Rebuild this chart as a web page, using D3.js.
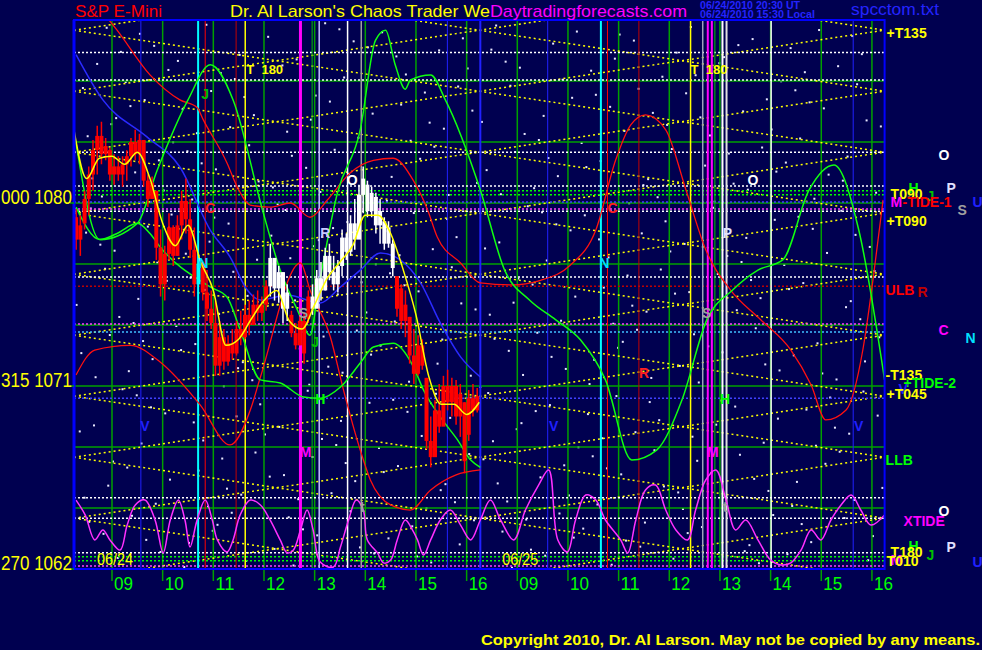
<!DOCTYPE html>
<html><head><meta charset="utf-8">
<script src="https://cdn.jsdelivr.net/npm/d3@7"></script>
<style>
body{margin:0;background:#000050;}
svg{display:block;}
text{font-family:"Liberation Sans",Arial,sans-serif;}
</style></head>
<body><svg id="c" width="982" height="650"></svg>
<script>
// ---------------- DATA ----------------
const dayLabels = ["06/24","06/25"];
const hourLabels = ["09","10","11","12","13","14","15","16","09","10","11","12","13","14","15","16"];
const hourTimes = [0.75,1.75,2.75,3.75,4.75,5.75,6.75,7.75,8.75,9.75,10.75,11.75,12.75,13.75,14.75,15.75];
const yTickValues = [1080,1071,1062];
const yTickLabels = ["000 1080","315 1071","270 1062"];
const gridPrices = [1065,1068,1071,1074,1077,1080,1083,1086];
const latticeLevels = [1060,1063,1066,1069,1072,1075,1078,1081,1084,1087,1090];

// 5-minute bars, session 1 (96 bars)
const barHigh = [1079.7,1079.4,1080.6,1081.8,1083.1,1083.8,1084.0,1083.2,1082.7,1082.4,1082.3,1082.3,1082.6,1083.2,1083.6,1083.4,1083.1,1081.4,1081.3,1080.6,1078.7,1077.9,1079.5,1078.9,1079.4,1080.6,1081.2,1080.2,1078.8,1077.4,1077.1,1076.7,1075.7,1075.2,1074.2,1073.8,1073.5,1073.8,1074.2,1074.7,1075.0,1075.2,1075.5,1075.7,1075.4,1076.2,1078.0,1077.1,1076.9,1076.6,1076.0,1074.7,1074.1,1074.5,1074.6,1075.7,1076.0,1076.7,1077.1,1077.8,1078.0,1077.4,1077.2,1078.7,1078.5,1079.4,1080.2,1080.9,1081.8,1081.1,1080.8,1080.5,1080.2,1079.3,1079.1,1078.2,1076.4,1076.0,1075.7,1074.4,1073.8,1073.5,1073.3,1071.4,1069.5,1070.3,1071.1,1071.5,1071.8,1071.4,1071.3,1071.1,1070.2,1070.8,1071.1,1070.9];
const barLow  = [1077.7,1077.4,1078.7,1079.4,1080.6,1081.4,1081.9,1082.1,1081.1,1080.9,1081.1,1080.8,1081.1,1081.8,1082.1,1081.9,1080.8,1079.8,1080.2,1077.2,1075.4,1075.2,1077.2,1076.9,1077.4,1078.2,1078.5,1077.3,1075.4,1076.4,1075.2,1074.2,1073.8,1071.5,1071.5,1071.8,1072.0,1072.3,1072.5,1073.0,1073.3,1073.5,1074.0,1074.2,1074.2,1074.7,1075.4,1075.2,1075.1,1074.1,1074.2,1073.4,1072.8,1073.0,1072.1,1074.1,1074.5,1074.9,1075.2,1075.7,1076.2,1075.7,1075.6,1076.4,1077.2,1077.4,1077.7,1078.7,1079.5,1079.3,1079.3,1078.5,1078.0,1077.7,1077.8,1076.4,1074.4,1073.8,1073.4,1072.1,1071.1,1071.5,1071.8,1067.9,1067.0,1067.6,1068.7,1069.3,1069.8,1069.5,1069.1,1068.5,1066.7,1068.3,1069.5,1069.7];
const barOpen = [1079.3,1078.2,1079.0,1080.2,1081.4,1082.6,1083.3,1082.4,1082.6,1081.4,1081.8,1081.4,1081.9,1082.3,1083.0,1082.4,1083.1,1081.1,1080.2,1080.6,1077.8,1076.0,1077.5,1078.8,1077.4,1078.9,1080.1,1079.2,1077.7,1076.0,1077.0,1075.6,1074.8,1074.1,1072.0,1073.4,1072.2,1073.1,1072.6,1073.8,1073.4,1074.5,1074.0,1075.0,1074.6,1075.0,1075.9,1077.3,1075.8,1076.6,1074.8,1074.5,1073.6,1073.0,1074.2,1074.3,1075.4,1074.8,1076.3,1075.7,1077.4,1076.6,1076.0,1076.9,1078.3,1077.6,1079.0,1078.2,1080.4,1080.9,1079.6,1080.3,1078.9,1079.1,1078.0,1078.0,1076.4,1075.8,1074.2,1074.4,1072.5,1071.6,1073.0,1071.4,1068.3,1067.5,1069.8,1069.0,1071.0,1070.2,1071.0,1069.5,1070.2,1068.6,1070.4,1069.8];
const barClose= [1078.2,1078.9,1080.2,1081.4,1082.6,1083.3,1082.4,1082.8,1081.4,1081.8,1081.4,1081.9,1082.3,1083.0,1082.4,1083.1,1081.1,1080.2,1081.0,1077.8,1076.0,1077.5,1078.8,1077.4,1078.9,1080.1,1079.2,1077.7,1076.0,1077.0,1075.6,1074.8,1074.1,1072.0,1073.4,1072.2,1073.1,1072.6,1073.8,1073.4,1074.5,1074.0,1075.0,1074.6,1075.0,1075.9,1077.3,1075.8,1076.6,1074.8,1075.6,1073.6,1073.0,1074.2,1072.6,1075.4,1074.8,1076.3,1075.7,1077.4,1076.6,1076.0,1076.9,1078.3,1077.6,1079.0,1078.2,1080.4,1081.2,1079.6,1080.5,1078.9,1079.6,1078.0,1078.8,1076.8,1074.8,1074.2,1075.0,1072.5,1071.6,1073.0,1072.0,1068.3,1067.5,1069.8,1069.0,1071.0,1070.2,1071.0,1069.5,1070.6,1067.3,1070.4,1069.8,1070.5];
const barColor = "rrrrrrrrrrrrrrrrrrrrrrrrrrrrrcrrrrrrrrrrrrrrrrwwwwwrrrrrwwwwwwwwwwwwwwwwwwwwrrrrrrrrrrrrrrrrrrrr";

// smoothed price (yellow), every 15 minutes, session 1
const yellowT = [0,0.25,0.5,0.75,1,1.25,1.5,1.75,2,2.25,2.5,2.75,3,3.25,3.5,3.75,4,4.25,4.5,4.75,5,5.25,5.5,5.75,6,6.25,6.5,6.75,7,7.25,7.5,7.75,8];
const yellowV = [1083.6,1081.2,1082.2,1082.3,1081.9,1082.5,1081.2,1079.0,1077.9,1078.9,1077.1,1075.7,1073.0,1073.3,1074.3,1075.2,1075.7,1074.2,1073.8,1075.0,1076.3,1077.1,1077.9,1079.4,1079.4,1078.5,1076.7,1074.5,1071.5,1070.1,1070.1,1069.6,1070.2];

// green cycle curve (both sessions)
const greenAT = [0.04,0.51,1.25,1.64,2.25,2.69,3.14,3.72,4.07,4.41,4.66,4.82,5.20,5.65,5.95,6.15,6.34,6.54,6.64,7.04,7.33,8.02,8.50,8.99,9.51,10.0,10.49,11.01,11.50,12.0,12.49,13.0,13.50,13.99,14.51,15.0,15.49,16.0];
const greenAV = [1082.95,1078.2,1079.0,1081.6,1085.07,1086.8,1085.07,1079.66,1076.7,1074.74,1073.5,1075.72,1080.5,1083.6,1088.0,1088.5,1086.8,1085.6,1086.05,1086.3,1085.07,1080.64,1076.7,1075.23,1074.25,1073.26,1071.3,1067.36,1067.85,1070.31,1074.25,1075.72,1076.7,1077.2,1080.64,1081.87,1078.67,1071.3];
// second green curve (session 1)
const greenBT = [0.04,0.51,0.85,1.25,1.50,1.70,2.69,3.02,3.28,3.68,4.07,4.53,4.86,5.26,5.65,5.91,6.30,6.70,6.90,7.23,7.57,7.83,8.02];
const greenBV = [1079.8,1078.2,1078.5,1079.0,1078.5,1077.84,1075.87,1075.38,1073.76,1071.3,1071.15,1070.46,1070.4,1070.95,1072.13,1072.92,1073.1,1071.94,1070.8,1069.48,1068.35,1067.36,1067.0];
// blue curve (session 1)
const blueT = [0.04,0.57,1.44,2.09,2.69,3.08,3.42,3.68,4.21,4.86,5.26,5.65,6.05,6.44,6.84,7.23,7.63,8.02];
const blueV = [1087.3,1085.07,1083.25,1081.77,1078.67,1077.35,1075.72,1075.23,1075.48,1075.08,1075.87,1076.7,1077.54,1077.2,1076.07,1074.1,1072.43,1071.44];
// red curve (upper, both sessions)
const redAT = [0.61,0.85,1.50,2.09,2.43,2.55,3.02,3.22,3.48,3.87,4.27,4.66,5.0,5.45,5.91,6.30,6.70,6.98,7.17,7.63,8.02,8.62,9.21,9.80,10.30,10.69,10.99,11.28,11.68,12.08,12.47,12.96,13.56,14.15,14.55,14.84,15.24,15.57,15.77,15.97];
const redAV = [1089.25,1088.5,1086.3,1085.07,1084.7,1084.1,1081.97,1080.8,1079.9,1079.8,1080.0,1079.3,1080.15,1081.48,1082.1,1082.2,1081.1,1079.66,1078.33,1077.05,1076.07,1075.97,1076.2,1076.95,1078.67,1082.1,1083.84,1084.33,1083.6,1080.64,1077.7,1075.72,1074.25,1072.77,1071.05,1069.33,1069.82,1072.77,1076.2,1080.15];
// red curve (lower, session 1)
const redBT = [0.04,0.41,1.11,1.70,2.49,3.08,3.48,3.68,4.47,4.66,5.06,5.32,5.65,5.85,6.25,6.64,7.04,7.53,8.02];
const redBV = [1071.54,1072.77,1073.0,1072.18,1070.07,1068.1,1069.82,1071.44,1077.05,1075.72,1073.41,1070.8,1067.85,1066.38,1065.15,1064.9,1065.89,1066.62,1066.87];
// XTIDE (magenta)
const tideT = [0.04,0.22,0.41,0.57,0.71,0.91,1.05,1.21,1.40,1.60,1.76,1.90,2.06,2.19,2.29,2.43,2.59,2.73,2.83,3.02,3.14,3.28,3.48,3.68,3.87,4.07,4.21,4.33,4.47,4.60,4.72,4.86,5.12,5.26,5.42,5.57,5.71,5.79,5.99,6.11,6.25,6.38,6.54,6.68,6.78,6.90,7.04,7.23,7.43,7.63,7.83,8.02,8.22,8.42,8.68,8.91,9.17,9.37,9.55,9.74,9.90,10.10,10.30,10.49,10.79,10.93,11.09,11.28,11.48,11.68,11.88,12.11,12.27,12.47,12.67,12.87,13.06,13.26,13.50,13.75,13.95,14.15,14.35,14.55,14.74,14.94,15.14,15.34,15.53,15.73,16.0];
const tideV = [1065.39,1064.66,1063.43,1063.92,1063.43,1062.93,1064.16,1065.15,1065.39,1064.41,1062.79,1064.41,1065.39,1064.41,1063.08,1064.41,1065.39,1064.41,1063.43,1062.84,1063.43,1064.66,1065.39,1065.15,1064.41,1063.43,1062.79,1062.93,1063.92,1064.9,1063.92,1062.34,1062.1,1063.08,1064.41,1065.39,1064.9,1063.43,1062.79,1062.3,1062.44,1063.43,1064.41,1063.92,1063.43,1062.69,1063.43,1064.41,1064.9,1064.16,1063.43,1064.41,1065.39,1064.41,1063.43,1064.9,1066.13,1066.87,1063.43,1062.84,1064.41,1065.64,1065.39,1064.41,1063.43,1062.79,1064.41,1065.89,1066.13,1064.9,1063.92,1063.43,1064.9,1066.38,1066.87,1065.39,1063.92,1064.41,1063.43,1062.44,1062.2,1062.3,1062.93,1063.92,1063.43,1064.41,1065.15,1065.64,1064.9,1064.16,1064.66];

// vertical event lines (time, colour, width)
const vLineT = [1.32,2.45,2.59,3.20,3.38,4.47,4.70,4.84,5.40,5.67,7.37,8.02,9.35,10.40,10.53,11.15,12.17,12.41,12.51,12.59,12.65,12.80,12.88,13.76,15.38];
const vLineC = ["#2020ff","#00ffff","#ff0000","#c00000","#ffff00","#ff00ff","#00c000","#c0c0ff","#ffffff","#a0a0a0","#2020ff","#2020ff","#2020ff","#00ffff","#ff0000","#c00000","#ffff00","#a0a0c0","#ff00ff","#ff00ff","#00c000","#ffffff","#e0e0e0","#ffffff","#2020ff"];
const vLineW = [1,2,1,1,1.5,3,1,1.5,1.5,1.5,1,2,1,2,1,1,1.5,1.5,2,2,1,2,2,1.5,1];

// horizontal dotted levels (price, colour)
const hLineP = [1087.4,1086.05,1082.5,1080.84,1080.6,1080.4,1080.05,1079.7,1079.6,1076.36,1075.9,1074.05,1073.65,1070.4,1065.5,1064.5,1062.8,1062.6,1062.4,1062.15];
const hLineC = ["#ffffff","#ffffff","#ffffff","#ffffff","#00ff00","#00ff00","#4040ff","#ff40ff","#ffffff","#ffffff","#c00000","#ff40ff","#40c0ff","#4040ff","#ffffff","#ffffff","#ffffff","#00ff00","#00ff00","#ff40ff"];

// letters inside the chart (time, price, text, colour)
const markT = [2.69,2.55,5.49,4.96,4.53,4.76,4.86,1.40,4.57,5.69,2.59,10.63,10.47,13.40,12.90,12.49,11.25,12.85,9.47,12.61,15.49,12.85];
const markV = [1079.5,1076.8,1080.9,1078.3,1074.35,1072.9,1070.1,1068.8,1067.5,1064.8,1085.1,1079.5,1076.8,1080.9,1078.3,1074.35,1071.4,1070.1,1068.8,1067.5,1068.8,1064.8];
const markS = ["C","N","O","R","S","J","H","V","M","t","J","C","N","O","P","S","R","H","V","M","V","t"];
const markC = ["#ff2020","#00e0ff","#ffffff","#c8c8ff","#a0a0a0","#00c000","#00ff00","#2020ff","#ff00ff","#a0a0a0","#00c000","#ff2020","#00e0ff","#ffffff","#e0e0ff","#a0a0a0","#ff2020","#00ff00","#2020ff","#ff00ff","#2020ff","#a0a0a0"];
const t180T = [3.40,12.17];

// labels right of the chart (x-offset from border, price, text, colour)
const sideDx = [2,54,24,62,6,42,6,18,88,73,2,1,33,54,81,1,19,14,2,1,54,19,24,6,42,62,6,2,88];
const sideV  = [1088.1,1082.1,1080.5,1080.5,1080.2,1080.1,1079.8,1079.8,1079.8,1079.4,1078.85,1075.5,1075.4,1073.5,1073.1,1071.3,1070.9,1070.6,1070.35,1067.1,1064.6,1064.1,1062.9,1062.6,1062.45,1062.85,1062.2,1062.15,1062.1];
const sideS  = ["+T135","O","H","P","T090","J","M","-TIDE-1","U","S","+T090","ULB","R","C","N","-T135","+TIDE-2","V","+T045","LLB","O","XTIDE","H","T180","J","P","M","T010","U"];
const sideC  = ["#ffff00","#ffffff","#00ff00","#e0e0ff","#ffff00","#00c000","#ff00ff","#ff0000","#2020ff","#a0a0a0","#ffff00","#ff0000","#c00000","#ff00ff","#00e0ff","#ffff00","#00ff00","#2020ff","#ffff00","#00ff00","#ffffff","#ff00ff","#00ff00","#ffff00","#00c000","#e0e0ff","#ff00ff","#ffff00","#2020ff"];

// ---------------- DRAW ----------------
const svg = d3.select("#c");
const W = 982, H = 650;
const x = d3.scaleLinear().domain([0,16]).range([74,884.6]);
const y = d3.scaleLinear().domain([1062,1089]).range([569,20]);
const bg = "#000050";
svg.append("rect").attr("width",W).attr("height",H).attr("fill",bg);

svg.append("clipPath").attr("id","pc").append("rect")
  .attr("x",x(0)).attr("y",y(1089)).attr("width",x(16)-x(0)).attr("height",y(1062)-y(1089));
const P = svg.append("g").attr("clip-path","url(#pc)");

// star field (deterministic low-discrepancy pattern)
function halton(i,b){let f=1,r=0;while(i>0){f/=b;r+=f*(i%b);i=Math.floor(i/b);}return r;}
const starIdx = d3.range(1,470);
P.append("g").selectAll("rect").data(starIdx).join("rect")
  .attr("x",d=>x(16*halton(d,2))).attr("y",d=>y(1062+27*halton(d,3)))
  .attr("width",2).attr("height",2).attr("fill","#e8e8ff");

// horizontal green grid
P.append("g").selectAll("line").data(gridPrices).join("line")
  .attr("x1",x(0)).attr("x2",x(16)).attr("y1",d=>y(d)).attr("y2",d=>y(d))
  .attr("stroke","#00a000").attr("stroke-width",1.5);
// green hour lines
P.append("g").selectAll("line").data(hourTimes).join("line")
  .attr("x1",d=>x(d)).attr("x2",d=>x(d)).attr("y1",y(1089)).attr("y2",y(1062))
  .attr("stroke","#00a000").attr("stroke-width",1.5);

// yellow lattice
const latticeSegs = [];
[0,8].forEach(t0=>{
  latticeLevels.forEach(L=>{
    latticeSegs.push([t0,L-1.5,t0+8,L+1.5]);
    latticeSegs.push([t0,L+1.5,t0+8,L-1.5]);
  });
});
P.append("g").selectAll("line").data(latticeSegs).join("line")
  .attr("x1",d=>x(d[0])).attr("y1",d=>y(d[1])).attr("x2",d=>x(d[2])).attr("y2",d=>y(d[3]))
  .attr("stroke","#ffff00").attr("stroke-width",1.5).attr("stroke-dasharray","2,3");

// horizontal dotted levels
P.append("g").selectAll("line").data(hLineP).join("line")
  .attr("x1",x(0)).attr("x2",x(16)).attr("y1",d=>y(d)).attr("y2",d=>y(d))
  .attr("stroke",(d,i)=>hLineC[i]).attr("stroke-width",1.5).attr("stroke-dasharray","2,2");

// vertical event lines
P.append("g").selectAll("line").data(vLineT).join("line")
  .attr("x1",d=>x(d)).attr("x2",d=>x(d)).attr("y1",y(1089)).attr("y2",y(1062))
  .attr("stroke",(d,i)=>vLineC[i]).attr("stroke-width",(d,i)=>vLineW[i]);

// curves
function curve(T,V,col,w,cv){
  const pts = T.map((t,i)=>[t,V[i]]);
  P.append("path").datum(pts)
    .attr("d",d3.line().x(d=>x(d[0])).y(d=>y(d[1])).curve(cv||d3.curveMonotoneX))
    .attr("fill","none").attr("stroke",col).attr("stroke-width",w);
}
curve(tideT,tideV,"#ff30ff",1.5,d3.curveCatmullRom);
curve(redBT,redBV,"#ff1010",1.3);
curve(blueT,blueV,"#2a2aff",1.5);
curve(redAT,redAV,"#ff1010",1.3);
curve(greenBT,greenBV,"#10ff10",1.5);
curve(greenAT,greenAV,"#10ff10",1.5);

// candlesticks
const bw = 8/96;
const barIdx = d3.range(barHigh.length);
const colOf = i => barColor[i]==="w" ? "#ffffff" : (barColor[i]==="c" ? "#00ffff" : "#ff0000");
P.append("g").selectAll("line").data(barIdx).join("line")
  .attr("x1",i=>x((i+0.5)*bw)).attr("x2",i=>x((i+0.5)*bw))
  .attr("y1",i=>y(barHigh[i])).attr("y2",i=>y(barLow[i]))
  .attr("stroke",colOf).attr("stroke-width",1.5);
P.append("g").selectAll("rect").data(barIdx).join("rect")
  .attr("x",i=>x((i+0.5)*bw)-2).attr("width",4)
  .attr("y",i=>y(Math.max(barOpen[i],barClose[i])))
  .attr("height",i=>Math.max(2,Math.abs(y(barOpen[i])-y(barClose[i]))))
  .attr("fill",colOf);
curve(yellowT,yellowV,"#ffff00",1.5);

// letter marks
P.append("g").selectAll("text").data(markT).join("text")
  .attr("x",d=>x(d)).attr("y",(d,i)=>y(markV[i]))
  .attr("text-anchor","middle").attr("font-size",14).attr("font-weight","bold")
  .attr("fill",(d,i)=>markC[i]).text((d,i)=>markS[i]);
P.append("g").selectAll("text").data(t180T).join("text")
  .attr("x",d=>x(d)).attr("y",y(1086.35))
  .attr("font-size",13).attr("font-weight","bold").attr("fill","#ffff00")
  .attr("xml:space","preserve").text("T  180");

// day labels
P.append("g").selectAll("text").data(dayLabels).join("text")
  .attr("x",(d,i)=>x(8*i)+23).attr("y",y(1062.2))
  .attr("font-size",17).attr("fill","#ffff00").attr("textLength",36).attr("lengthAdjust","spacingAndGlyphs")
  .text(d=>d);

// border
svg.append("rect").attr("x",x(0)).attr("y",y(1089)).attr("width",x(16)-x(0)).attr("height",y(1062)-y(1089))
  .attr("fill","none").attr("stroke","#0000ff").attr("stroke-width",2);
svg.append("line").attr("x1",x(0)).attr("x2",x(0)).attr("y1",y(1089)).attr("y2",y(1062))
  .attr("stroke","#0000ff").attr("stroke-width",3);

// x axis ticks & labels
svg.append("g").selectAll("line").data(hourTimes).join("line")
  .attr("x1",d=>x(d)).attr("x2",d=>x(d)).attr("y1",y(1062)+1).attr("y2",y(1062)+12)
  .attr("stroke","#00a000").attr("stroke-width",1.5);
svg.append("g").selectAll("text").data(hourTimes).join("text")
  .attr("x",d=>x(d)+2).attr("y",590)
  .attr("font-size",18).attr("fill","#00ff00").attr("textLength",19).attr("lengthAdjust","spacingAndGlyphs")
  .text((d,i)=>hourLabels[i]);

// y axis ticks & labels
svg.append("g").selectAll("line").data(yTickValues).join("line")
  .attr("x1",70).attr("x2",x(0)).attr("y1",d=>y(d)).attr("y2",d=>y(d))
  .attr("stroke","#00a000").attr("stroke-width",1.5);
svg.append("g").selectAll("text").data(yTickValues).join("text")
  .attr("x",1).attr("y",d=>y(d)+1)
  .attr("font-size",20).attr("fill","#ffff00").attr("textLength",71).attr("lengthAdjust","spacingAndGlyphs")
  .text((d,i)=>yTickLabels[i]);

// right side labels
svg.append("g").selectAll("text").data(sideS).join("text")
  .attr("x",(d,i)=>x(16)+sideDx[i]).attr("y",(d,i)=>y(sideV[i]))
  .attr("font-size",14).attr("font-weight","bold").attr("fill",(d,i)=>sideC[i]).text(d=>d);

// header
svg.append("text").attr("x",75).attr("y",17).attr("font-size",17).attr("fill","#ff0000")
  .attr("textLength",87).attr("lengthAdjust","spacingAndGlyphs").text("S&P E-Mini");
svg.append("text").attr("x",230).attr("y",17).attr("font-size",17).attr("fill","#ffff00")
  .attr("textLength",270).attr("lengthAdjust","spacingAndGlyphs").text("Dr. Al Larson's Chaos Trader Web");
svg.append("rect").attr("x",490).attr("y",0).attr("width",198).attr("height",19).attr("fill",bg);
svg.append("text").attr("x",490).attr("y",17).attr("font-size",17).attr("fill","#ff00ff")
  .attr("textLength",197).attr("lengthAdjust","spacingAndGlyphs").text("Daytradingforecasts.com");
svg.append("text").attr("x",700).attr("y",9).attr("font-size",10).attr("font-weight","bold").attr("fill","#2424ff")
  .attr("textLength",100).attr("lengthAdjust","spacingAndGlyphs").text("06/24/2010 20:30 UT");
svg.append("text").attr("x",700).attr("y",18).attr("font-size",10).attr("font-weight","bold").attr("fill","#2424ff")
  .attr("textLength",115).attr("lengthAdjust","spacingAndGlyphs").text("06/24/2010 15:30 Local");
svg.append("text").attr("x",851).attr("y",15).attr("font-size",16).attr("fill","#2424ff")
  .attr("textLength",88).attr("lengthAdjust","spacingAndGlyphs").text("spcctom.txt");

// footer
svg.append("text").attr("x",481).attr("y",645).attr("font-size",15).attr("font-weight","bold").attr("fill","#ffff00")
  .attr("textLength",499).attr("lengthAdjust","spacingAndGlyphs")
  .text("Copyright 2010, Dr. Al Larson. May not be copied by any means.");
</script>
</body></html>
